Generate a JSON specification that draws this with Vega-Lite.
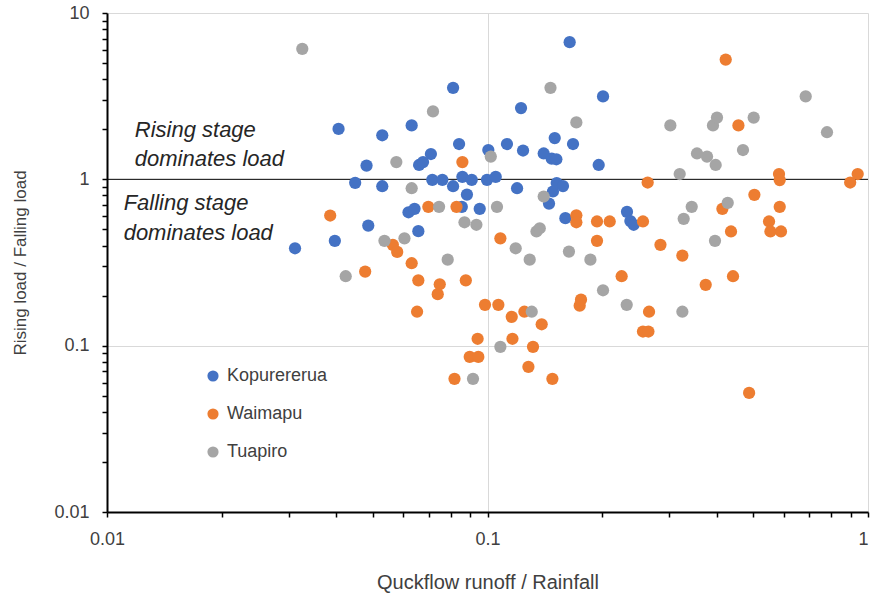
{
  "$schema": "https://vega.github.io/schema/vega-lite/v6.json",
  "width": 761,
  "height": 499,
  "autosize": {"type": "none"},
  "padding": {"left": 107, "top": 13, "right": 2, "bottom": 85},
  "background": "white",
  "config": {"view": {"stroke": null}, "font": "Liberation Sans"},
  "datasets": {
    "pts": [
      {"site": "Kopurererua", "x": 0.0312, "y": 0.385},
      {"site": "Kopurererua", "x": 0.0406, "y": 2.01},
      {"site": "Kopurererua", "x": 0.0397, "y": 0.427},
      {"site": "Kopurererua", "x": 0.0449, "y": 0.953},
      {"site": "Kopurererua", "x": 0.0481, "y": 1.21},
      {"site": "Kopurererua", "x": 0.0486, "y": 0.527},
      {"site": "Kopurererua", "x": 0.0529, "y": 1.84},
      {"site": "Kopurererua", "x": 0.0529, "y": 0.909},
      {"site": "Kopurererua", "x": 0.0632, "y": 2.11},
      {"site": "Kopurererua", "x": 0.062, "y": 0.634},
      {"site": "Kopurererua", "x": 0.0643, "y": 0.665},
      {"site": "Kopurererua", "x": 0.0658, "y": 0.488},
      {"site": "Kopurererua", "x": 0.0661, "y": 1.22},
      {"site": "Kopurererua", "x": 0.0677, "y": 1.27},
      {"site": "Kopurererua", "x": 0.071, "y": 1.42},
      {"site": "Kopurererua", "x": 0.0716, "y": 0.993},
      {"site": "Kopurererua", "x": 0.0761, "y": 0.993},
      {"site": "Kopurererua", "x": 0.0812, "y": 3.55},
      {"site": "Kopurererua", "x": 0.0812, "y": 0.909},
      {"site": "Kopurererua", "x": 0.0842, "y": 1.63},
      {"site": "Kopurererua", "x": 0.0856, "y": 0.683},
      {"site": "Kopurererua", "x": 0.0859, "y": 1.035},
      {"site": "Kopurererua", "x": 0.0883, "y": 0.81},
      {"site": "Kopurererua", "x": 0.0909, "y": 0.993},
      {"site": "Kopurererua", "x": 0.0954, "y": 0.665},
      {"site": "Kopurererua", "x": 0.0997, "y": 0.993},
      {"site": "Kopurererua", "x": 0.1005, "y": 1.5},
      {"site": "Kopurererua", "x": 0.1051, "y": 1.035},
      {"site": "Kopurererua", "x": 0.1125, "y": 1.63},
      {"site": "Kopurererua", "x": 0.1196, "y": 0.884},
      {"site": "Kopurererua", "x": 0.1225, "y": 2.68},
      {"site": "Kopurererua", "x": 0.124, "y": 1.49},
      {"site": "Kopurererua", "x": 0.1405, "y": 1.43},
      {"site": "Kopurererua", "x": 0.1451, "y": 0.715},
      {"site": "Kopurererua", "x": 0.1475, "y": 1.33},
      {"site": "Kopurererua", "x": 0.1517, "y": 1.32},
      {"site": "Kopurererua", "x": 0.1486, "y": 0.845},
      {"site": "Kopurererua", "x": 0.1502, "y": 1.77},
      {"site": "Kopurererua", "x": 0.152, "y": 0.95},
      {"site": "Kopurererua", "x": 0.1579, "y": 0.911},
      {"site": "Kopurererua", "x": 0.1602, "y": 0.584},
      {"site": "Kopurererua", "x": 0.1644, "y": 6.68},
      {"site": "Kopurererua", "x": 0.1678, "y": 1.63},
      {"site": "Kopurererua", "x": 0.196, "y": 1.22},
      {"site": "Kopurererua", "x": 0.2012, "y": 3.15},
      {"site": "Kopurererua", "x": 0.2326, "y": 0.638},
      {"site": "Kopurererua", "x": 0.2374, "y": 0.561},
      {"site": "Kopurererua", "x": 0.2422, "y": 0.533},
      {"site": "Waimapu", "x": 0.0386, "y": 0.606},
      {"site": "Waimapu", "x": 0.0477, "y": 0.279},
      {"site": "Waimapu", "x": 0.0564, "y": 0.404},
      {"site": "Waimapu", "x": 0.0579, "y": 0.366},
      {"site": "Waimapu", "x": 0.0632, "y": 0.313},
      {"site": "Waimapu", "x": 0.0653, "y": 0.16},
      {"site": "Waimapu", "x": 0.0658, "y": 0.247},
      {"site": "Waimapu", "x": 0.0699, "y": 0.683},
      {"site": "Waimapu", "x": 0.074, "y": 0.204},
      {"site": "Waimapu", "x": 0.0749, "y": 0.234},
      {"site": "Waimapu", "x": 0.0829, "y": 0.683},
      {"site": "Waimapu", "x": 0.0859, "y": 1.27},
      {"site": "Waimapu", "x": 0.0877, "y": 0.247},
      {"site": "Waimapu", "x": 0.0819, "y": 0.0632},
      {"site": "Waimapu", "x": 0.0898, "y": 0.0856},
      {"site": "Waimapu", "x": 0.0946, "y": 0.0856},
      {"site": "Waimapu", "x": 0.0942, "y": 0.11},
      {"site": "Waimapu", "x": 0.0985, "y": 0.176},
      {"site": "Waimapu", "x": 0.1068, "y": 0.176},
      {"site": "Waimapu", "x": 0.1081, "y": 0.442},
      {"site": "Waimapu", "x": 0.1158, "y": 0.149},
      {"site": "Waimapu", "x": 0.1163, "y": 0.11},
      {"site": "Waimapu", "x": 0.125, "y": 0.16},
      {"site": "Waimapu", "x": 0.1281, "y": 0.0746},
      {"site": "Waimapu", "x": 0.1317, "y": 0.0984},
      {"site": "Waimapu", "x": 0.1388, "y": 0.1345},
      {"site": "Waimapu", "x": 0.1481, "y": 0.0632},
      {"site": "Waimapu", "x": 0.1712, "y": 0.608},
      {"site": "Waimapu", "x": 0.1712, "y": 0.552},
      {"site": "Waimapu", "x": 0.1747, "y": 0.174},
      {"site": "Waimapu", "x": 0.1761, "y": 0.189},
      {"site": "Waimapu", "x": 0.194, "y": 0.558},
      {"site": "Waimapu", "x": 0.194, "y": 0.427},
      {"site": "Waimapu", "x": 0.2095, "y": 0.558},
      {"site": "Waimapu", "x": 0.2252, "y": 0.2615},
      {"site": "Waimapu", "x": 0.2562, "y": 0.558},
      {"site": "Waimapu", "x": 0.2562, "y": 0.1216},
      {"site": "Waimapu", "x": 0.2648, "y": 0.1216},
      {"site": "Waimapu", "x": 0.2636, "y": 0.957},
      {"site": "Waimapu", "x": 0.2658, "y": 0.16},
      {"site": "Waimapu", "x": 0.2848, "y": 0.404},
      {"site": "Waimapu", "x": 0.3252, "y": 0.348},
      {"site": "Waimapu", "x": 0.3745, "y": 0.232},
      {"site": "Waimapu", "x": 0.4143, "y": 0.665},
      {"site": "Waimapu", "x": 0.4227, "y": 5.25},
      {"site": "Waimapu", "x": 0.4365, "y": 0.486},
      {"site": "Waimapu", "x": 0.4418, "y": 0.2615},
      {"site": "Waimapu", "x": 0.4565, "y": 2.11},
      {"site": "Waimapu", "x": 0.487, "y": 0.052},
      {"site": "Waimapu", "x": 0.5028, "y": 0.807},
      {"site": "Waimapu", "x": 0.5494, "y": 0.558},
      {"site": "Waimapu", "x": 0.5541, "y": 0.486},
      {"site": "Waimapu", "x": 0.5836, "y": 1.076},
      {"site": "Waimapu", "x": 0.5861, "y": 0.99},
      {"site": "Waimapu", "x": 0.5861, "y": 0.683},
      {"site": "Waimapu", "x": 0.5907, "y": 0.486},
      {"site": "Waimapu", "x": 0.8978, "y": 0.957},
      {"site": "Waimapu", "x": 0.9396, "y": 1.076},
      {"site": "Tuapiro", "x": 0.0326, "y": 6.09},
      {"site": "Tuapiro", "x": 0.0424, "y": 0.2615},
      {"site": "Tuapiro", "x": 0.0536, "y": 0.427},
      {"site": "Tuapiro", "x": 0.0576, "y": 1.27},
      {"site": "Tuapiro", "x": 0.0605, "y": 0.442},
      {"site": "Tuapiro", "x": 0.0632, "y": 0.884},
      {"site": "Tuapiro", "x": 0.0719, "y": 2.56},
      {"site": "Tuapiro", "x": 0.0746, "y": 0.683},
      {"site": "Tuapiro", "x": 0.0786, "y": 0.329},
      {"site": "Tuapiro", "x": 0.087, "y": 0.552},
      {"site": "Tuapiro", "x": 0.0935, "y": 0.533},
      {"site": "Tuapiro", "x": 0.0916, "y": 0.0632},
      {"site": "Tuapiro", "x": 0.102, "y": 1.37},
      {"site": "Tuapiro", "x": 0.1059, "y": 0.683},
      {"site": "Tuapiro", "x": 0.1081, "y": 0.0984},
      {"site": "Tuapiro", "x": 0.1186, "y": 0.385},
      {"site": "Tuapiro", "x": 0.1291, "y": 0.329},
      {"site": "Tuapiro", "x": 0.1307, "y": 0.16},
      {"site": "Tuapiro", "x": 0.1345, "y": 0.486},
      {"site": "Tuapiro", "x": 0.1372, "y": 0.508},
      {"site": "Tuapiro", "x": 0.1405, "y": 0.788},
      {"site": "Tuapiro", "x": 0.1464, "y": 3.55},
      {"site": "Tuapiro", "x": 0.1637, "y": 0.368},
      {"site": "Tuapiro", "x": 0.1712, "y": 2.2},
      {"site": "Tuapiro", "x": 0.1864, "y": 0.329},
      {"site": "Tuapiro", "x": 0.2012, "y": 0.2153},
      {"site": "Tuapiro", "x": 0.2322, "y": 0.176},
      {"site": "Tuapiro", "x": 0.3024, "y": 2.11},
      {"site": "Tuapiro", "x": 0.32, "y": 1.076},
      {"site": "Tuapiro", "x": 0.3252, "y": 0.16},
      {"site": "Tuapiro", "x": 0.3278, "y": 0.579},
      {"site": "Tuapiro", "x": 0.3441, "y": 0.683},
      {"site": "Tuapiro", "x": 0.3553, "y": 1.43},
      {"site": "Tuapiro", "x": 0.3775, "y": 1.37},
      {"site": "Tuapiro", "x": 0.3914, "y": 2.11},
      {"site": "Tuapiro", "x": 0.401, "y": 2.35},
      {"site": "Tuapiro", "x": 0.3978, "y": 1.22},
      {"site": "Tuapiro", "x": 0.3962, "y": 0.427},
      {"site": "Tuapiro", "x": 0.4279, "y": 0.722},
      {"site": "Tuapiro", "x": 0.4693, "y": 1.5},
      {"site": "Tuapiro", "x": 0.5007, "y": 2.35},
      {"site": "Tuapiro", "x": 0.6859, "y": 3.15},
      {"site": "Tuapiro", "x": 0.7802, "y": 1.92}
    ],
    "notes": [
      {"label": "Rising stage", "x": 0.01183, "y": 1.809},
      {"label": "dominates load", "x": 0.01183, "y": 1.211},
      {"label": "Falling stage", "x": 0.01106, "y": 0.652},
      {"label": "dominates load", "x": 0.01106, "y": 0.4345}
    ],
    "line": [{"y": 1}]
  },
  "layer": [
    {
      "data": {"name": "line"},
      "mark": {"type": "rule", "color": "#000000", "strokeWidth": 1},
      "encoding": {
        "y": {
          "field": "y", "type": "quantitative",
          "scale": {"type": "log", "domain": [0.01, 10], "nice": false},
          "title": "Rising load / Falling load"
        }
      }
    },
    {
      "data": {"name": "pts"},
      "mark": {"type": "point", "filled": true, "opacity": 1, "size": 150, "shape": "circle"},
      "encoding": {
        "x": {
          "field": "x", "type": "quantitative",
          "scale": {"type": "log", "domain": [0.01, 1], "nice": false},
          "title": "Quckflow runoff / Rainfall",
          "axis": {
            "values": [0.01, 0.02, 0.03, 0.04, 0.05, 0.06, 0.07, 0.08, 0.09, 0.1, 0.2, 0.3, 0.4, 0.5, 0.6, 0.7, 0.8, 0.9, 1],
            "format": "~g",
            "labelExpr": "indexof(['0.01','0.1','1'], datum.label) >= 0 ? datum.label : ''",
            "labelAlign": {"condition": {"test": "datum.value == 1", "value": "right"}, "value": "center"},
            "grid": true,
            "gridColor": "#d9d9d9",
            "gridWidth": 1,
            "gridOpacity": {"condition": {"test": "datum.value == 0.01 || datum.value == 0.1 || datum.value == 1", "value": 1}, "value": 0},
            "domainColor": "#000000", "domainWidth": 2,
            "tickColor": "#000000", "tickWidth": 1.5, "tickSize": 5,
            "labelFontSize": 18, "labelColor": "#404040", "labelPadding": 13,
            "labelFlush": false, "labelOverlap": false,
            "titleFontSize": 20, "titleFontWeight": "normal", "titleColor": "#404040", "titlePadding": 24
          }
        },
        "y": {
          "field": "y", "type": "quantitative",
          "scale": {"type": "log", "domain": [0.01, 10], "nice": false},
          "title": "Rising load / Falling load",
          "axis": {
            "values": [0.01, 0.02, 0.03, 0.04, 0.05, 0.06, 0.07, 0.08, 0.09, 0.1, 0.2, 0.3, 0.4, 0.5, 0.6, 0.7, 0.8, 0.9, 1, 2, 3, 4, 5, 6, 7, 8, 9, 10],
            "format": "~g",
            "labelExpr": "indexof(['0.01','0.1','1','10'], datum.label) >= 0 ? datum.label : ''",
            "grid": true,
            "gridColor": "#d9d9d9",
            "gridWidth": 1,
            "gridOpacity": {"condition": {"test": "datum.value == 0.01 || datum.value == 0.1 || datum.value == 10", "value": 1}, "value": 0},
            "domainColor": "#000000", "domainWidth": 2,
            "tickColor": "#000000", "tickWidth": 1.5, "tickSize": 5,
            "labelFontSize": 18, "labelColor": "#404040", "labelPadding": 13,
            "labelFlush": false, "labelOverlap": false,
            "titleFontSize": 17, "titleFontWeight": "normal", "titleColor": "#404040", "titlePadding": 24
          }
        },
        "color": {
          "field": "site", "type": "nominal",
          "scale": {"domain": ["Kopurererua", "Waimapu", "Tuapiro"], "range": ["#4472C4", "#ED7D31", "#A5A5A5"]},
          "legend": {
            "title": null, "orient": "none", "legendX": 97, "legendY": 354,
            "padding": 0, "symbolType": "circle", "symbolSize": 125,
            "labelFontSize": 18, "labelColor": "#404040", "labelOffset": 5,
            "rowPadding": 20
          }
        }
      }
    },
    {
      "data": {"name": "notes"},
      "mark": {"type": "text", "align": "left", "baseline": "alphabetic", "fontSize": 22, "fontStyle": "italic", "color": "#262626"},
      "encoding": {
        "x": {"field": "x", "type": "quantitative", "scale": {"type": "log", "domain": [0.01, 1], "nice": false}, "title": "Quckflow runoff / Rainfall"},
        "y": {"field": "y", "type": "quantitative", "scale": {"type": "log", "domain": [0.01, 10], "nice": false}, "title": "Rising load / Falling load"},
        "text": {"field": "label"}
      }
    }
  ]
}
